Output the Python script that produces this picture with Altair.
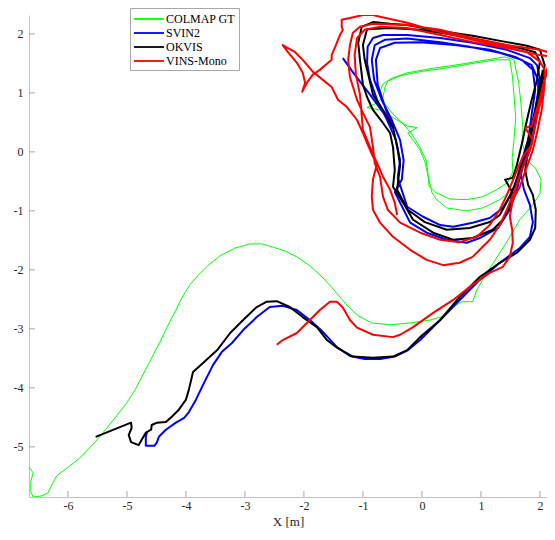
import altair as alt
import pandas as pd

# ---------------- data (metres) ----------------
gt_x = [-6.66, -6.59, -6.63, -6.63, -6.59, -6.44, -6.34, -6.27, -6.19, -6.03, -5.80, -5.54, -5.34, -5.17, -5.00,
        -4.86, -4.73, -4.58, -4.44, -4.31, -4.17, -4.05, -3.93, -3.80, -3.63, -3.42, -3.17, -2.92, -2.71, -2.54,
        -2.32, -2.12, -1.90, -1.69, -1.49, -1.29, -1.08, -0.85, -0.54, -0.20, 0.14, 0.39, 0.56, 0.68, 0.86,
        0.93, 1.10, 1.29, 1.46, 1.66, 1.86, 2.00, 2.02, 1.92, 1.78, 1.71, 1.71, 1.68, 1.64, 1.56,
        1.41, 0.98, 0.56, 0.14, -0.25, -0.51, -0.66, -0.71, -0.64, -0.49, -0.31, -0.15, -0.03, 0.07, 0.10,
        0.12, 0.24, 0.47, 0.76, 1.03, 1.27, 1.46, 1.54, 1.53, 1.56, 1.59, 1.56, 1.53, 1.49, 1.24,
        0.81, 0.39, -0.03, -0.37, -0.58, -0.63, -0.66, -0.80, -0.93, -0.71, -0.49, -0.25, -0.08, -0.24, -0.15,
        -0.03, 0.05, 0.10, 0.17, 0.25, 0.42, 0.76, 1.03, 1.32, 1.53, 1.63]
gt_y = [-5.34, -5.44, -5.59, -5.76, -5.85, -5.83, -5.78, -5.64, -5.49, -5.37, -5.19, -4.92, -4.68, -4.47, -4.25,
        -4.03, -3.78, -3.49, -3.22, -2.95, -2.68, -2.44, -2.25, -2.10, -1.93, -1.76, -1.63, -1.56, -1.56, -1.61,
        -1.68, -1.78, -1.93, -2.12, -2.34, -2.58, -2.78, -2.90, -2.93, -2.90, -2.85, -2.78, -2.61, -2.54, -2.54,
        -2.34, -2.05, -1.76, -1.49, -1.15, -0.92, -0.71, -0.47, -0.27, -0.14, 0.12, 0.42, 0.80, 1.17, 1.56,
        1.61, 1.54, 1.47, 1.41, 1.34, 1.25, 1.15, 1.02, 0.83, 0.64, 0.47, 0.27, 0.07, -0.14, -0.34,
        -0.58, -0.69, -0.80, -0.81, -0.76, -0.64, -0.51, -0.34, -0.10, 0.20, 0.58, 0.97, 1.31, 1.56, 1.56,
        1.49, 1.42, 1.36, 1.29, 1.20, 1.08, 0.92, 0.81, 0.75, 0.71, 0.58, 0.44, 0.41, 0.32, 0.20,
        0.03, -0.17, -0.39, -0.69, -0.81, -0.95, -1.00, -0.95, -0.81, -0.64, -0.44]

svin_x = [-4.66, -4.68, -4.68, -4.53, -4.49, -4.46, -4.34, -4.17, -4.03, -3.95, -3.83, -3.71, -3.54, -3.39, -3.22,
          -3.03, -2.80, -2.58, -2.36, -2.12, -1.90, -1.68, -1.44, -1.22, -0.97, -0.71, -0.46, -0.25, -0.03, 0.31,
          0.64, 0.98, 1.32, 1.66, 1.83,
          1.88, 1.83, 1.73, 1.68, 1.73, 1.81, 1.88, 1.95, 2.00, 1.95, 1.83, 1.44, 0.86, 0.31, -0.25,
          -0.66, -0.83, -0.92, -0.93, -0.88, -0.76, -0.59, -0.44, -0.37, -0.41, -0.25, 0.02, 0.31, 0.53, 0.86,
          1.15, 1.37, 1.53, 1.63, 1.71, 1.80, 1.86, 1.92, 1.88, 1.69, 1.32, 0.81, 0.31, -0.25, -0.63,
          -0.80, -0.85, -0.81, -0.68, -0.51, -0.37, -0.31, -0.34, -0.46, -0.20, 0.08, 0.42, 0.76, 0.98, 1.29,
          1.49, 1.61, 1.69, 1.83, 1.92, 1.97, 1.97, 1.86, 1.58, 1.15, 0.56, -0.03, -0.46, -0.71, -0.78,
          -0.75, -0.61, -0.49, -0.63, -0.88, -1.14, -1.34]
svin_y = [-4.75, -4.83, -4.98, -4.98, -4.92, -4.83, -4.71, -4.59, -4.51, -4.41, -4.20, -3.95, -3.61, -3.39, -3.24,
          -3.02, -2.80, -2.63, -2.61, -2.68, -2.85, -3.05, -3.31, -3.46, -3.51, -3.51, -3.47, -3.37, -3.19, -2.85,
          -2.51, -2.17, -1.88, -1.63, -1.44,
          -1.19, -0.90, -0.64, -0.39, -0.14, 0.12, 0.46, 0.88, 1.25, 1.47, 1.59, 1.73, 1.85, 1.93, 1.98,
          1.98, 1.93, 1.78, 1.51, 1.22, 0.88, 0.54, 0.20, -0.14, -0.44, -0.93, -1.10, -1.24, -1.27, -1.20,
          -1.12, -0.95, -0.68, -0.39, -0.10, 0.20, 0.63, 1.05, 1.39, 1.56, 1.68, 1.78, 1.86, 1.92, 1.90,
          1.81, 1.56, 1.22, 0.88, 0.54, 0.20, -0.14, -0.47, -0.68, -1.20, -1.37, -1.49, -1.54, -1.46, -1.29,
          -0.98, -0.64, -0.31, 0.03, 0.46, 0.88, 1.22, 1.47, 1.61, 1.73, 1.81, 1.86, 1.85, 1.76, 1.56,
          1.14, 0.71, 0.41, 0.63, 0.97, 1.31, 1.59]

okvis_x = [-5.53, -4.93, -4.92, -4.97, -4.93, -4.80, -4.75, -4.68, -4.59, -4.58, -4.49, -4.34, -4.24, -4.12, -4.00,
           -3.95, -3.88, -3.71, -3.47, -3.25, -3.03, -2.80, -2.63, -2.46, -2.24, -2.02, -1.78, -1.61, -1.44, -1.17,
           -0.83, -0.49, -0.25, -0.03, 0.31, 0.64, 0.98, 1.32, 1.61, 1.83, 1.92, 1.93, 1.88, 1.80, 1.75,
           1.80, 1.88, 1.97, 2.05, 2.08, 2.00, 1.78, 1.44, 0.86, 0.31, -0.25, -0.54, -0.83, -1.02, -1.08,
           -1.05, -1.02, -1.00, -0.93, -0.83, -0.66, -0.54, -0.49, -0.46, -0.49, -0.32, -0.15, 0.19, 0.53, 0.86,
           1.20, 1.37, 1.49, 1.53, 1.41, 1.54, 1.61, 1.69, 1.78, 1.86, 1.95, 2.00, 1.92, 1.66, 1.15,
           0.56, -0.03, -0.54, -0.93, -1.00, -0.97, -0.93, -0.88, -0.83, -0.66, -0.49, -0.41, -0.37, -0.42, -0.24,
           0.05, 0.42, 0.81, 1.15, 1.32, 1.46, 1.58, 1.66, 1.80, 1.92, 2.00, 2.05]
okvis_y = [-4.83, -4.59, -4.68, -4.80, -4.92, -4.97, -4.88, -4.76, -4.71, -4.63, -4.59, -4.58, -4.49, -4.37, -4.20,
           -4.03, -3.73, -3.58, -3.36, -3.07, -2.85, -2.63, -2.54, -2.53, -2.63, -2.80, -2.97, -3.19, -3.32, -3.47,
           -3.49, -3.47, -3.36, -3.14, -2.85, -2.46, -2.12, -1.88, -1.71, -1.49, -1.29, -0.98, -0.73, -0.56, -0.31,
           0.03, 0.46, 0.88, 1.22, 1.47, 1.73, 1.80, 1.86, 1.97, 2.05, 2.15, 2.17, 2.20, 2.12, 1.85,
           1.56, 1.31, 1.14, 0.93, 0.71, 0.49, 0.32, 0.08, -0.31, -0.59, -0.86, -1.15, -1.37, -1.49, -1.46,
           -1.32, -1.15, -0.93, -0.68, -0.47, -0.44, -0.22, 0.12, 0.54, 0.88, 1.22, 1.53, 1.69, 1.76, 1.86,
           1.98, 2.07, 2.10, 2.08, 1.81, 1.56, 1.39, 1.19, 0.97, 0.71, 0.42, 0.03, -0.22, -0.64, -0.98,
           -1.19, -1.32, -1.29, -1.19, -1.07, -0.81, -0.56, -0.31, 0.20, 0.71, 1.14, 1.39]

vins_x = [-2.46, -2.36, -2.12, -1.95, -1.73, -1.56, -1.44, -1.34, -1.22, -1.10, -0.83, -0.49, -0.37, -0.15, 0.19,
          0.53, 0.86, 1.15, 1.37, 1.49, 1.54, 1.53, 1.49, 1.54, 1.66, 1.78, 1.88, 1.95, 2.03, 2.08,
          2.08, 2.00, 1.78, 1.44, 0.86, 0.31, -0.25, -0.71, -0.83, -1.00, -1.22, -1.36, -1.36, -1.34, -1.39,
          -1.47, -1.53, -1.53, -1.59, -1.73, -1.85, -1.95, -2.03, -1.98, -2.02, -2.12, -2.27, -2.36, -2.15, -2.02,
          -1.85, -1.68, -1.53, -1.42, -1.27, -1.10, -1.00, -0.93, -0.83, -0.76, -0.83, -0.85, -0.83, -0.71, -0.49,
          -0.20, 0.08, 0.36, 0.64, 0.86, 0.98, 1.15, 1.32, 1.44, 1.58, 1.69, 1.83, 1.88, 1.75, 1.86,
          1.97, 2.08, 2.17, 2.27, 2.17, 2.00, 1.44, 0.86, 0.31, -0.25, -0.83, -1.05, -1.17, -1.22, -1.25,
          -1.22, -1.10, -1.00, -0.88, -0.83, -0.80, -0.71, -0.66, -0.58, -0.37, -0.03, 0.31, 0.64, 0.93, 1.15,
          1.32, 1.44, 1.58, 1.71, 1.86, 1.95, 2.03, 2.08, 2.14, 2.27, 2.00, 1.44, 0.86, 0.31, -0.25,
          -0.71, -0.97, -1.10, -1.14, -1.12, -1.05, -1.00, -0.88, -0.76, -0.66, -0.54, -0.46, -0.42]
vins_y = [-3.27, -3.19, -3.07, -2.90, -2.68, -2.54, -2.54, -2.64, -2.85, -2.98, -3.10, -3.14, -3.10, -2.97, -2.73,
          -2.51, -2.25, -2.05, -1.95, -1.78, -1.54, -1.32, -1.10, -0.81, -0.59, -0.25, 0.03, 0.32, 0.71, 1.14,
          1.39, 1.53, 1.69, 1.78, 1.90, 2.03, 2.19, 2.29, 2.32, 2.32, 2.27, 2.24, 2.12, 2.07, 1.98,
          1.78, 1.64, 1.56, 1.51, 1.39, 1.31, 1.17, 1.02, 1.17, 1.34, 1.51, 1.69, 1.81, 1.69, 1.56,
          1.36, 1.22, 1.10, 0.88, 0.76, 0.54, 0.32, 0.15, -0.08, -0.19, -0.47, -0.76, -0.98, -1.20, -1.44,
          -1.66, -1.83, -1.92, -1.88, -1.78, -1.66, -1.49, -1.24, -0.98, -0.64, -0.31, 0.03, 0.20, 0.41, 0.44,
          0.80, 1.22, 1.47, 1.56, 1.68, 1.73, 1.81, 1.93, 2.07, 2.15, 2.17, 2.12, 2.02, 1.81, 1.56,
          1.27, 0.88, 0.66, 0.42, 0.08, -0.19, -0.42, -0.76, -0.98, -1.20, -1.37, -1.49, -1.53, -1.44, -1.24,
          -0.98, -0.73, -0.39, -0.08, 0.12, 0.59, 0.93, 1.22, 1.47, 1.61, 1.64, 1.76, 1.86, 1.98, 2.10,
          2.12, 2.07, 1.93, 1.64, 1.31, 0.97, 0.37, 0.08, -0.19, -0.42, -0.64, -0.86, -1.07]

series_names = ["COLMAP GT", "SVIN2", "OKVIS", "VINS-Mono"]
series_colors = ["#00ff00", "#0000ff", "#000000", "#ff0000"]
x_ticks = [-6, -5, -4, -3, -2, -1, 0, 1, 2]
y_ticks = [-5, -4, -3, -2, -1, 0, 1, 2]

frames = []
for name, xs_, ys_ in zip(series_names, [gt_x, svin_x, okvis_x, vins_x], [gt_y, svin_y, okvis_y, vins_y]):
    frames.append(pd.DataFrame({"x": xs_, "y": ys_, "series": name, "i": range(len(xs_))}))
df = pd.concat(frames, ignore_index=True)

W, H = 518, 482
FONT = "Liberation Serif"
xs = alt.Scale(domain=[-6.66, 2.12], nice=False, zero=False)
ys = alt.Scale(domain=[-5.85, 2.32], nice=False, zero=False)
cs = alt.Scale(domain=series_names, range=series_colors)
lab = "datum.value < 0 ? '-' + abs(datum.value) : '' + datum.value"

xaxis = alt.Axis(values=x_ticks, labelExpr=lab, ticks=False, grid=False, domainColor="#c4c4c4",
                 labelFont=FONT, labelFontSize=12, labelColor="#262626", labelPadding=3,
                 title="X [m]", titleFont=FONT, titleFontSize=13, titleFontWeight="normal",
                 titleColor="#262626", titlePadding=4)
yaxis = alt.Axis(values=y_ticks, labelExpr=lab, ticks=False, grid=False, domainColor="#c4c4c4",
                 labelFont=FONT, labelFontSize=12, labelColor="#262626", labelPadding=6, title=None)
legend = alt.Legend(title=None, orient="none", legendX=101, legendY=-7, symbolType="M-2.14,0H2.14",
                    symbolSize=196, symbolStrokeWidth=1.8, symbolFillColor="transparent",
                    symbolOffset=8, labelOffset=9,
                    labelFont=FONT, labelFontSize=12,
                    labelColor="#000000", rowPadding=0, padding=3,
                    strokeColor="#a8a8a8", fillColor="white", labelLimit=200)

base = alt.Chart(df)
widths = {"COLMAP GT": 1, "SVIN2": 2, "OKVIS": 2, "VINS-Mono": 2}
layers = []
for k, name in enumerate(series_names):
    layers.append(
        base.transform_filter(alt.datum.series == name)
        .mark_line(strokeWidth=widths[name], clip=True, strokeJoin="round")
        .encode(x=alt.X("x:Q", scale=xs, axis=xaxis),
                y=alt.Y("y:Q", scale=ys, axis=yaxis),
                color=alt.Color("series:N", scale=cs, legend=legend),
                order="i:Q")
    )

xt = alt.Chart(pd.DataFrame({"v": x_ticks})).mark_rule(color="#a8a8a8").encode(
    x=alt.X("v:Q", scale=xs, axis=xaxis), y=alt.value(H), y2=alt.value(H - 6))
yt = alt.Chart(pd.DataFrame({"v": y_ticks})).mark_rule(color="#a8a8a8").encode(
    y=alt.Y("v:Q", scale=ys, axis=yaxis), x=alt.value(0), x2=alt.value(6))

chart = alt.layer(*layers, xt, yt).properties(
    width=W, height=H,
    autosize=alt.AutoSizeParams(type="none"),
    padding={"left": 21, "top": 7, "right": 0, "bottom": 32},
    background="white",
).configure_view(stroke=None).configure_legend(strokeColor="#a8a8a8", fillColor="white", padding=3)

chart.save("out.html", embed_options={"renderer": "svg", "actions": False})
